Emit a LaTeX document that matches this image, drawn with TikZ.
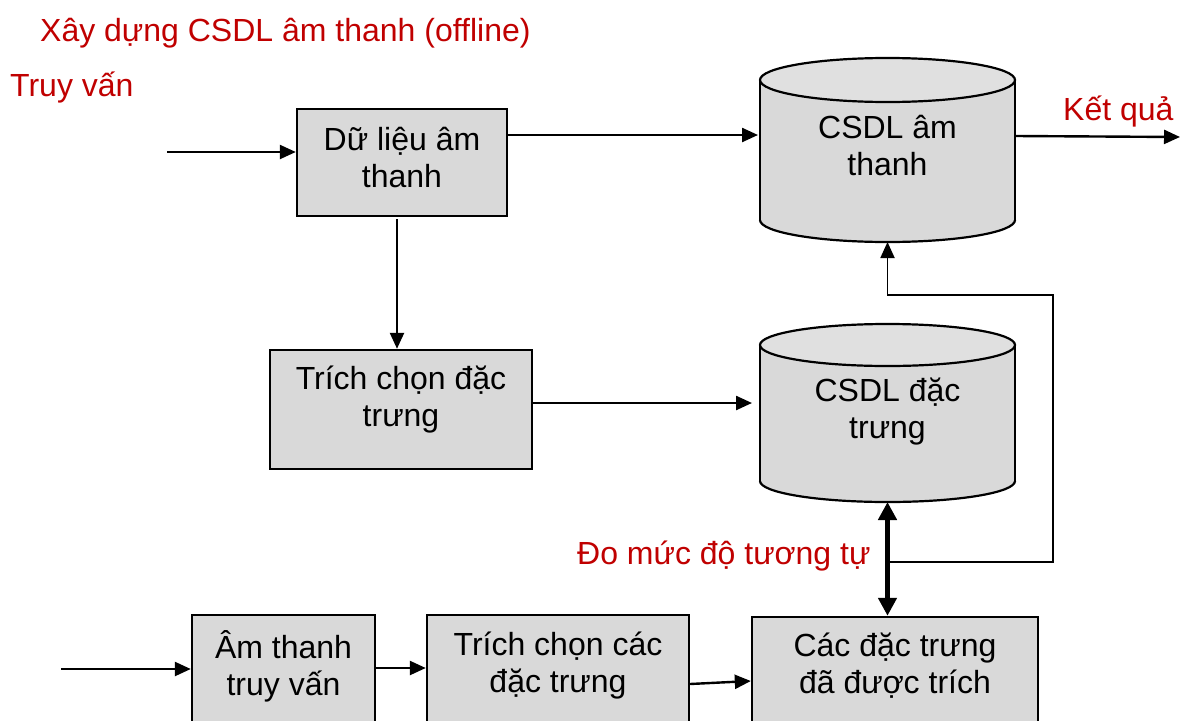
\documentclass[tikz,border=0pt]{standalone}
\usepackage{fontspec}
\setmainfont{Liberation Sans}
\usetikzlibrary{arrows.meta}

\definecolor{boxgray}{RGB}{217,217,217}
\definecolor{topgray}{RGB}{224,224,224}
\definecolor{capred}{RGB}{192,0,0}

\tikzset{
  procbox/.style={draw=black, line width=2.4pt, fill=boxgray, inner sep=0pt},
  lbl/.style={align=center, font=\fontsize{32}{37}\selectfont, inner sep=0pt},
  redlbl/.style={text=capred, font=\fontsize{32}{37}\selectfont, inner sep=0pt},
  arr/.style={line width=2.4pt, -{Triangle[length=16pt,width=14pt]}},
  thickarr/.style={line width=5pt,
    {Triangle[length=18pt,width=18pt]}-{Triangle[length=18pt,width=18pt]}},
  fbline/.style={line width=1.8pt, -{Triangle[length=16pt,width=14pt]}},
  cylline/.style={draw=black, line width=2.2pt},
}

% database cylinder: name, centre x, top-ellipse y, bottom-ellipse y, x radius, y radius
\newcommand\dbcyl[6]{%
  \fill[boxgray] (#2-#5,#3) rectangle (#2+#5,#4);
  \fill[boxgray] (#2,#4) ellipse [x radius=#5, y radius=#6];
  \begin{scope}
    \clip (#2-#5-5,#4) rectangle (#2+#5+5,#4+#6+5);
    \draw[cylline] (#2,#4) ellipse [x radius=#5, y radius=#6];
  \end{scope}
  \draw[cylline] (#2-#5,#3) -- (#2-#5,#4) (#2+#5,#3) -- (#2+#5,#4);
  \filldraw[cylline, fill=topgray] (#2,#3) ellipse [x radius=#5, y radius=#6];
  \node[inner sep=0pt, minimum width={2*#5}, minimum height={#4-#3}] (#1) at (#2,{(#3+#4)/2}) {};
  \coordinate (#1-bot) at (#2,{#4+#6});
}

\begin{document}
\begin{tikzpicture}[x=1pt, y=-1pt]
  \useasboundingbox (0,0) rectangle (1180,720);
  \clip (0,0) rectangle (1180,720);

  % captions
  \node[redlbl, anchor=base west] (title) at (40,41) {Xây dựng CSDL âm thanh (offline)};
  \node[redlbl, anchor=base west] (query) at (10,96) {Truy vấn};
  \node[redlbl, anchor=base west] (result) at (1063,120) {Kết quả};
  \node[redlbl, anchor=base west] (measure) at (577,564) {Đo mức độ tương tự};

  % offline branch
  \node[procbox, minimum width=210pt, minimum height=107pt] (d1) at (402,162.5) {};
  \node[lbl] (d1txt) at (402,158) {Dữ liệu âm\\thanh};
  \node[procbox, minimum width=262pt, minimum height=119pt] (t1) at (401,409.5) {};
  \node[lbl] (t1txt) at (401,400) {Trích chọn đặc\\trưng};

  \dbcyl{db1}{887.5}{80}{220}{127.5}{22}
  \node[lbl] (db1txt) at (887.5,146) {CSDL âm\\thanh};
  \dbcyl{db2}{887.5}{345}{481}{127.5}{21}
  \node[lbl] (db2txt) at (887.5,412) {CSDL đặc\\trưng};

  % query branch
  \node[procbox, minimum width=183pt, minimum height=145pt] (b1) at (283.5,687.5) {};
  \node[lbl] (b1txt) at (283.5,666) {Âm thanh\\truy vấn};
  \node[procbox, minimum width=262pt, minimum height=145pt] (b2) at (558,687.5) {};
  \node[lbl] (b2txt) at (558,666) {Trích chọn các\\đặc trưng};
  \node[procbox, minimum width=286pt, minimum height=143pt] (b3) at (895,688.5) {};
  \node[lbl] (b3txt) at (895,666) {Các đặc trưng\\đã được trích};

  % free ends of connectors
  \coordinate (in1) at (167,152);
  \coordinate (in2) at (61,669);
  \coordinate (out) at (1180,137);
  \coordinate (db1in) at (758,135);
  \coordinate (db2in) at (752,403);
  \coordinate (vcol) at (397,0);
  \coordinate (fbR) at (1053,295);

  % connectors
  \draw[arr] (in1) -- (in1 -| d1.west);
  \draw[arr] (d1.east |- db1in) -- (db1in);
  \draw[arr] ([yshift=-2pt]d1.south -| vcol) -- (t1.north -| vcol);
  \draw[arr] (t1.east |- db2in) -- (db2in);
  \draw[arr] (db1.east |- 0,136) -- (out);

  \draw[arr] (in2) -- (in2 -| b1.west);
  \draw[arr] (b1.east |- 0,668) -- (b2.west |- 0,668);
  \draw[arr] (b2.east |- 0,684) -- (b3.west |- 0,681);

  \draw[thickarr] (db2-bot) -- (db2-bot |- b3.north);
  \draw[fbline] (db2-bot |- 0,562) -| (fbR) -| (db1-bot);
\end{tikzpicture}
\end{document}
